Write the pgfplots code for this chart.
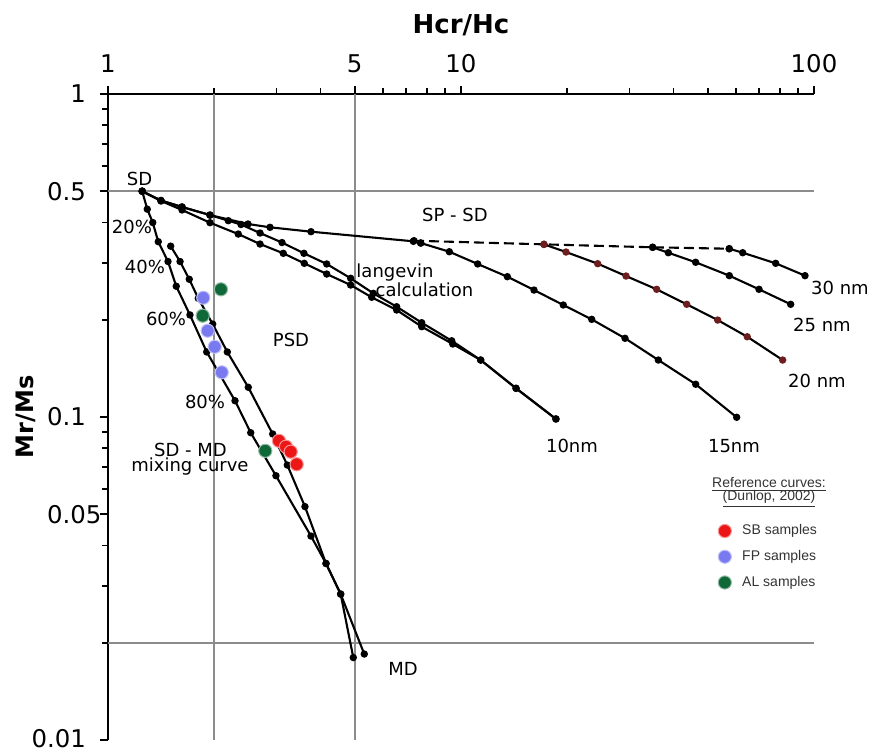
\documentclass[border=0pt]{standalone}
\usepackage{pgfplots}
\pgfplotsset{compat=1.18}
\usepackage{fontspec}
\setmainfont{DejaVu Sans}
\newfontfamily\arialfont{Liberation Sans}
\usetikzlibrary{calc}
\definecolor{sbred}{RGB}{236,22,22}
\definecolor{fpblue}{RGB}{122,122,240}
\definecolor{algreen}{RGB}{14,104,56}
\definecolor{gridgray}{RGB}{140,140,140}
\definecolor{mkred}{RGB}{110,30,30}
\pgfplotsset{
  curve/.style={black, line width=1.05pt, mark=*, mark size=1.3pt, mark options={solid, fill=black}, forget plot},
  grid line/.style={gridgray, line width=1pt, forget plot},
  sample/.style={only marks, mark=*, mark size=3.3pt, mark options={fill=#1, draw=#1!45!white, line width=0.5pt}},
}
\begin{document}
\begin{tikzpicture}
\begin{axis}[
  scale only axis, width=353pt, height=323pt,
  xmode=log, ymode=log, xmin=1, xmax=100, ymin=0.01, ymax=1,
  axis x line*=top, axis y line*=left,
  axis line style={line width=1.2pt},
  xtick={1,5,10,100}, xticklabels={1,5,10,100},
  minor xtick={2,3,4,6,7,8,9,20,30,40,50,60,70,80,90},
  ytick={0.01,0.05,0.1,0.5,1}, yticklabels={\raisebox{2pt}{0.01},\rlap{0.05}\phantom{0.1},0.1,0.5,1},
  minor ytick={0.02,0.03,0.04,0.06,0.07,0.08,0.09,0.2,0.3,0.4,0.6,0.7,0.8,0.9},
  tick align=outside, major tick length=4pt, minor tick length=3pt,
  every tick/.style={black, line width=0.9pt},
  tick label style={font=\fontsize{12.2}{14}\selectfont},
  xticklabel style={yshift=3pt},
  yticklabel style={xshift=-3.5pt},
  /pgf/number format/assume math mode=true,
  clip=false,
  legend style={draw=none, fill=none, font=\arialfont\fontsize{7}{8}\selectfont, text=black!80,
    at={(axis description cs:0.854,0.3467)}, anchor=north west, row sep=2.3pt},
  legend image code/.code={\draw[#1] plot coordinates {(0pt,0pt)}; \path (-3.55pt,0pt) (6.5pt,0pt);},
  legend cell align=left,
]
% grid lines
\addplot[grid line] coordinates {(2,0.01) (2,1)};
\addplot[grid line] coordinates {(5,0.01) (5,1)};
\addplot[grid line] coordinates {(1,0.5) (100,0.5)};
\addplot[grid line] coordinates {(1,0.02) (100,0.02)};
% SD - MD mixing curves
\addplot[curve] coordinates {(1.25,0.5) (1.292,0.440) (1.339,0.400) (1.388,0.349) (1.479,0.303) (1.561,0.254) (1.707,0.207) (1.904,0.159) (2.29,0.1123) (2.537,0.0894) (2.991,0.0658) (3.759,0.0428) (4.146,0.0352) (4.562,0.0283) (5.321,0.01846)};
\addplot[curve] coordinates {(1.505,0.338) (1.600,0.303) (1.699,0.267) (1.802,0.233) (1.980,0.194) (2.178,0.159) (2.497,0.1236) (2.928,0.0886) (3.221,0.0710) (3.614,0.0528) (4.146,0.0352) (4.562,0.0283) (4.953,0.0180)};
% SP - SD curves
\addplot[curve] coordinates {(1.25,0.5) (1.413,0.468) (1.621,0.4469) (1.945,0.4219) (2.492,0.3959) (2.877,0.3867) (3.759,0.3748) (7.326,0.3499) (7.689,0.3457)};
\addplot[black, line width=1.05pt, dash pattern=on 5pt off 2.5pt, mark=*, mark size=1.3pt, mark options={solid, fill=black}, forget plot] coordinates {(7.36,0.3514) (17.18,0.3424) (34.91,0.3353) (57.54,0.3319)};
\addplot[curve] coordinates {(7.689,0.3457) (9.267,0.3249) (11.15,0.2977) (13.53,0.2719) (16.10,0.2472) (19.49,0.2222) (23.46,0.2006) (29.15,0.1753) (36.23,0.1501) (46.22,0.1263) (60.39,0.0998)};
\addplot[curve, mark options={solid, fill=mkred, draw=mkred}] coordinates {(17.18,0.3424) (19.84,0.3242) (24.39,0.2983) (29.34,0.2732) (35.84,0.2485) (43.6,0.2233) (53.36,0.1996) (64.71,0.1772) (81.52,0.1501)};
\addplot[curve] coordinates {(34.91,0.3353) (38.67,0.3226) (46.22,0.3013) (57.56,0.2739) (69.87,0.2485) (85.9,0.2233)};
\addplot[curve] coordinates {(57.54,0.3319) (62.81,0.3226) (77.9,0.2991) (94.3,0.2739)};
% 10 nm and langevin calculation
\addplot[curve] coordinates {(1.25,0.5) (1.413,0.468) (1.621,0.4469) (1.945,0.4219) (2.192,0.4053) (2.381,0.3945) (2.696,0.3712) (3.111,0.3469) (3.591,0.3212) (4.165,0.2977) (4.869,0.2688) (5.643,0.2415) (6.573,0.2195) (7.740,0.1959) (9.412,0.1722) (11.37,0.1501) (14.32,0.1227) (18.58,0.0986)};
\addplot[curve] coordinates {(1.25,0.5) (1.413,0.4664) (1.621,0.4375) (1.945,0.3996) (2.339,0.3685) (2.696,0.3432) (3.137,0.3212) (3.598,0.2991) (4.165,0.2771) (4.869,0.2562) (5.585,0.2348) (6.573,0.2144) (7.740,0.1904) (9.474,0.1683) (11.37,0.1501) (14.32,0.1227) (18.58,0.0986)};
% samples
\addplot[sample=sbred] coordinates {(3.05,0.0844) (3.193,0.0809) (3.293,0.0781) (3.424,0.0714)};
\addlegendentry{SB samples}
\addplot[sample=fpblue] coordinates {(1.862,0.234) (1.916,0.185) (2.006,0.165) (2.10,0.1375)};
\addlegendentry{FP samples}
\addplot[sample=algreen] coordinates {(2.089,0.2485) (1.855,0.2059) (2.79,0.0786)};
\addlegendentry{AL samples}
% labels
\begin{scope}[every node/.style={font=\fontsize{9}{10}\selectfont, anchor=base}]
\node at (rel axis cs:0.0446,0.8576) {SD};
\node at (rel axis cs:0.034,0.7848) {20\%};
\node at (rel axis cs:0.0524,0.7214) {40\%};
\node at (rel axis cs:0.0822,0.6409) {60\%};
\node at (rel axis cs:0.1374,0.5124) {80\%};
\node at (rel axis cs:0.1169,0.4381) {SD - MD};
\node at (rel axis cs:0.1161,0.4149) {mixing curve};
\node at (rel axis cs:0.4178,0.0991) {MD};
\node at (rel axis cs:0.2592,0.6084) {PSD};
\node at (rel axis cs:0.4915,0.8019) {SP - SD};
\node at (rel axis cs:0.4065,0.7167) {langevin};
\node at (rel axis cs:0.4483,0.6873) {calculation};
\node at (rel axis cs:1.0368,0.6889) {30 nm};
\node at (rel axis cs:1.0113,0.6331) {25 nm};
\node at (rel axis cs:1.0042,0.5464) {20 nm};
\node at (rel axis cs:0.8867,0.4443) {15nm};
\node at (rel axis cs:0.6572,0.4443) {10nm};
\end{scope}
\node[anchor=base, font=\arialfont\fontsize{7}{8}\selectfont, text=black!80] at (rel axis cs:0.9363,0.3916) {\underline{Reference curves:}};
\node[anchor=base, font=\arialfont\fontsize{7}{8}\selectfont, text=black!80] at (rel axis cs:0.9363,0.370) {\underline{(Dunlop, 2002)}};
\node[anchor=base, font=\bfseries\fontsize{13}{15}\selectfont] at ([yshift=30.5pt]rel axis cs:0.5,1) {Hcr/Hc};
\node[anchor=base, rotate=90, font=\bfseries\fontsize{12}{14}\selectfont] at ([xshift=-37pt]rel axis cs:0,0.5) {Mr/Ms};
\coordinate (bl) at (rel axis cs:0,0);
\coordinate (tr) at (rel axis cs:1,1);
\end{axis}
\pgfresetboundingbox
\path[use as bounding box] ($(bl)+(-54pt,-5.5pt)$) rectangle ($(tr)+(30pt,47pt)$);
\end{tikzpicture}
\end{document}
